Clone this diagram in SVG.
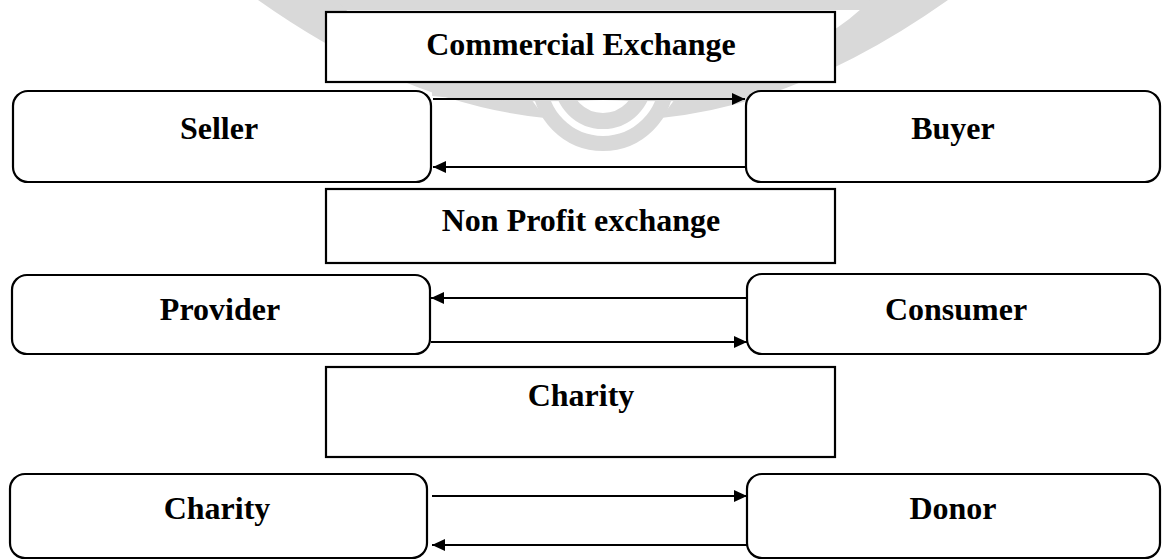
<svg xmlns="http://www.w3.org/2000/svg" width="1162" height="560" viewBox="0 0 1162 560">
<style>
.bg{fill:#ffffff}
.wm{fill:#d9d9d9}
.wmr{fill:none;stroke:#d9d9d9}
.box{fill:#ffffff;stroke:#000000;stroke-width:2.2}
.lbl{font-family:"Liberation Serif","Times New Roman",serif;font-weight:bold;font-size:32px;fill:#000000;text-anchor:middle}
.con{stroke:#000000;stroke-width:2;fill:none}
</style>
<defs>
<marker id="ah" markerUnits="userSpaceOnUse" markerWidth="14" markerHeight="14" refX="13" refY="7" orient="auto">
<path d="M0,1 L13,7 L0,13 Z" fill="#000000"/>
</marker>
</defs>
<rect class="bg" x="0" y="0" width="1162" height="560"/>
<g id="watermark">
<path class="wm" d="M300,0 L906,0 L906,10 L300,10 Z"/>
<path class="wm" d="M258,0 L336,0 Q390,58 520,84 L545,118 Q405,104 258,0 Z"/>
<path class="wm" d="M948,0 L870,0 Q816,58 686,84 L661,118 Q801,104 948,0 Z"/>
<path class="wm" d="M432,82 L778,82 L778,96 Q700,104 603,100 Q506,104 432,96 Z"/>
<path class="wmr" stroke-width="15" d="M539.5,80 A63.5,63.5 0 1 0 666.5,80"/>
<path class="wmr" stroke-width="16" d="M562,80 A41,41 0 1 0 644,80"/>
</g>
<g id="connectors">
<line class="con" x1="433" y1="99" x2="745" y2="99" marker-end="url(#ah)"/>
<line class="con" x1="745" y1="167" x2="433" y2="167" marker-end="url(#ah)"/>
<line class="con" x1="747" y1="298" x2="431" y2="298" marker-end="url(#ah)"/>
<line class="con" x1="431" y1="342" x2="747" y2="342" marker-end="url(#ah)"/>
<line class="con" x1="432" y1="496" x2="747" y2="496" marker-end="url(#ah)"/>
<line class="con" x1="747" y1="545" x2="432" y2="545" marker-end="url(#ah)"/>
</g>
<g id="commercial">
<rect class="box" x="326" y="12" width="509" height="70"/>
<text class="lbl" x="581" y="55">Commercial Exchange</text>
</g>
<g id="seller">
<rect class="box" x="13" y="91" width="418" height="91" rx="15"/>
<text class="lbl" x="219" y="139">Seller</text>
</g>
<g id="buyer">
<rect class="box" x="746" y="91" width="414" height="91" rx="15"/>
<text class="lbl" x="953" y="139">Buyer</text>
</g>
<g id="nonprofit">
<rect class="box" x="326" y="189" width="509" height="74"/>
<text class="lbl" x="581" y="231">Non Profit exchange</text>
</g>
<g id="provider">
<rect class="box" x="12" y="275" width="418" height="79" rx="15"/>
<text class="lbl" x="220" y="320">Provider</text>
</g>
<g id="consumer">
<rect class="box" x="747" y="274" width="413" height="80" rx="15"/>
<text class="lbl" x="956" y="320">Consumer</text>
</g>
<g id="charity-top">
<rect class="box" x="326" y="367" width="509" height="90"/>
<text class="lbl" x="581" y="406">Charity</text>
</g>
<g id="charity">
<rect class="box" x="10" y="474" width="417" height="84" rx="15"/>
<text class="lbl" x="217" y="519">Charity</text>
</g>
<g id="donor">
<rect class="box" x="747" y="474" width="413" height="84" rx="15"/>
<text class="lbl" x="953" y="519">Donor</text>
</g>
</svg>
